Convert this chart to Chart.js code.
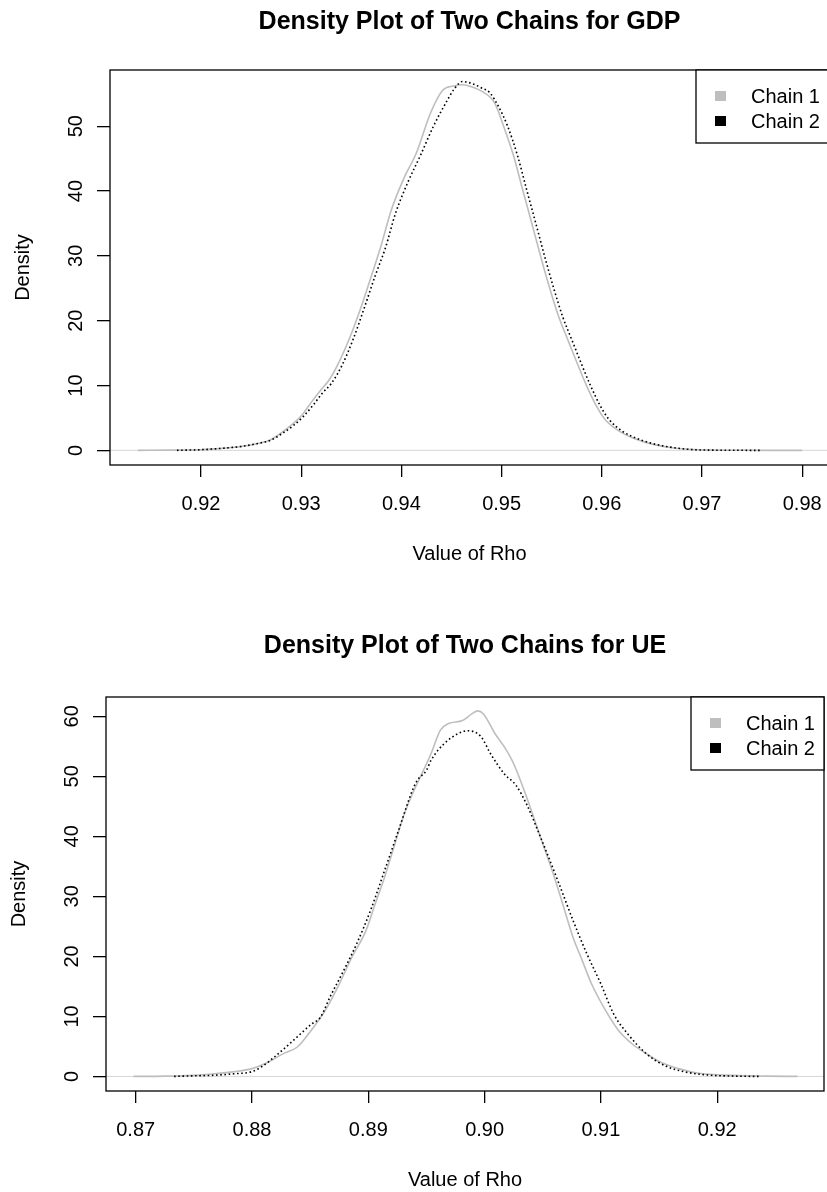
<!DOCTYPE html>
<html>
<head>
<meta charset="utf-8">
<script src="https://cdn.jsdelivr.net/npm/chart.js@4.4.1/dist/chart.umd.min.js"></script>
<style>
  html, body { margin: 0; padding: 0; background: #ffffff; overflow: hidden; width: 827px; height: 1192px; }
  canvas { position: absolute; left: 0; }
  #gdpChart { top: 0; }
  #ueChart { top: 596px; }
</style>
</head>
<body>
<canvas id="gdpChart" width="840" height="596"></canvas>
<canvas id="ueChart" width="827" height="596"></canvas>
<script>
// ---- Data: kernel density estimates of rho for two MCMC chains ----
const seriesNames = ['Chain 1', 'Chain 2'];

// GDP model
const gdpTitle = 'Density Plot of Two Chains for GDP';
const gdpTicksX = [0.92, 0.93, 0.94, 0.95, 0.96, 0.97, 0.98];
const gdpTicksY = [0, 10, 20, 30, 40, 50];
const gdpRho1 = [0.9137, 0.9170, 0.9200, 0.9220, 0.9240, 0.9258, 0.9269, 0.9280, 0.9291, 0.9301, 0.9310, 0.9319, 0.9328, 0.9338, 0.9349, 0.9360, 0.9370, 0.9379, 0.9390, 0.9402, 0.9415, 0.9429, 0.9441, 0.9452, 0.9461, 0.9470, 0.9480, 0.9493, 0.9502, 0.9512, 0.9521, 0.9530, 0.9539, 0.9548, 0.9557, 0.9567, 0.9576, 0.9585, 0.9594, 0.9603, 0.9617, 0.9631, 0.9649, 0.9672, 0.9700, 0.9740, 0.9800];
const gdpDensity1 = [0, 0.03, 0.1, 0.3, 0.6, 1.1, 1.6, 2.7, 4.0, 5.5, 7.4, 9.2, 10.9, 13.7, 17.6, 22.2, 26.9, 31.2, 37.1, 41.8, 45.9, 52.0, 55.5, 56.2, 56.4, 56.1, 55.4, 53.6, 50.0, 45.4, 40.2, 35.1, 29.9, 25.0, 20.6, 16.7, 13.2, 9.9, 7.0, 4.8, 3.0, 1.9, 1.0, 0.35, 0.08, 0.01, 0];
const gdpRho2 = [0.9176, 0.9200, 0.9220, 0.9240, 0.9258, 0.9270, 0.9281, 0.9292, 0.9302, 0.9312, 0.9321, 0.9330, 0.9341, 0.9352, 0.9363, 0.9374, 0.9384, 0.9394, 0.9406, 0.9419, 0.9432, 0.9444, 0.9453, 0.9461, 0.9470, 0.9480, 0.9488, 0.9497, 0.9506, 0.9516, 0.9525, 0.9534, 0.9543, 0.9552, 0.9561, 0.9571, 0.9580, 0.9589, 0.9598, 0.9607, 0.9620, 0.9634, 0.9652, 0.9675, 0.9700, 0.9759];
const gdpDensity2 = [0, 0.1, 0.3, 0.6, 1.1, 1.6, 2.6, 3.8, 5.2, 7.0, 8.8, 10.3, 13.2, 17.2, 22.0, 27.0, 31.2, 36.5, 41.2, 45.5, 50.0, 53.5, 55.8, 56.9, 56.6, 55.9, 55.2, 53.0, 50.0, 45.4, 40.2, 35.1, 29.9, 25.0, 20.6, 16.7, 13.2, 9.9, 7.0, 4.8, 3.0, 1.9, 1.0, 0.35, 0.05, 0];

// UE model
const ueTitle = 'Density Plot of Two Chains for UE';
const ueTicksX = [0.87, 0.88, 0.89, 0.90, 0.91, 0.92];
const ueTicksY = [0, 10, 20, 30, 40, 50, 60];
const ueRho1 = [0.8698, 0.8725, 0.8750, 0.8768, 0.8785, 0.8800, 0.8811, 0.8827, 0.8839, 0.8851, 0.8863, 0.8875, 0.8886, 0.8898, 0.8906, 0.8914, 0.8922, 0.8930, 0.8938, 0.8946, 0.8954, 0.8962, 0.8969, 0.8981, 0.8989, 0.8994, 0.8999, 0.9009, 0.9017, 0.9025, 0.9036, 0.9048, 0.9060, 0.9068, 0.9076, 0.9084, 0.9092, 0.9104, 0.9115, 0.9127, 0.9139, 0.9151, 0.9167, 0.9183, 0.9214, 0.9242, 0.9269];
const ueDensity1 = [0, 0.05, 0.2, 0.45, 0.8, 1.3, 2.1, 3.8, 4.9, 7.7, 11.0, 15.4, 19.9, 24.3, 28.8, 33.2, 38.2, 43.2, 47.1, 50.4, 53.8, 57.7, 58.8, 59.3, 60.4, 60.9, 60.4, 57.1, 54.9, 52.1, 46.6, 39.9, 33.2, 28.2, 23.2, 19.3, 15.4, 11.0, 7.7, 5.4, 3.8, 2.4, 1.3, 0.56, 0.17, 0.05, 0];
const ueRho2 = [0.8733, 0.8750, 0.8768, 0.8785, 0.8800, 0.8809, 0.8819, 0.8835, 0.8851, 0.8859, 0.8867, 0.8879, 0.8890, 0.8902, 0.8914, 0.8926, 0.8938, 0.8942, 0.8950, 0.8954, 0.8965, 0.8977, 0.8985, 0.8997, 0.9005, 0.9017, 0.9027, 0.9036, 0.9048, 0.9064, 0.9076, 0.9088, 0.9100, 0.9111, 0.9123, 0.9139, 0.9155, 0.9171, 0.9194, 0.9215, 0.9236];
const ueDensity2 = [0, 0.1, 0.2, 0.45, 0.8, 1.7, 3.2, 5.9, 8.7, 9.9, 13.2, 17.7, 22.1, 27.7, 34.3, 41.0, 47.7, 49.3, 51.0, 52.7, 55.4, 57.1, 57.6, 56.6, 53.8, 50.4, 48.5, 45.4, 39.9, 32.1, 26.0, 20.4, 15.4, 10.4, 7.1, 3.8, 1.8, 0.8, 0.2, 0.05, 0];

const xTitle = 'Value of Rho';
const yTitle = 'Density';

// ---- Styling ----
const FONT = '"Liberation Sans", Arial, Helvetica, sans-serif';
const chainColors = ['#bebebe', '#000000'];

function toPoints(xs, ys) {
  return xs.map((x, i) => ({ x: x, y: ys[i] }));
}

// Base-graphics look: boxed plot region, rotated y labels, boxed legend, zero reference line
const basePlotPlugin = {
  id: 'basePlot',
  beforeDatasetsDraw(chart) {
    const ctx = chart.ctx, ca = chart.chartArea;
    const y0 = chart.scales.y.getPixelForValue(0);
    ctx.save();
    ctx.strokeStyle = '#d6d6d6';
    ctx.lineWidth = 1;
    ctx.beginPath();
    ctx.moveTo(ca.left, y0);
    ctx.lineTo(ca.right, y0);
    ctx.stroke();
    ctx.restore();
  },
  afterDraw(chart) {
    const o = chart.options.plugins.basePlot;
    const ctx = chart.ctx, ca = chart.chartArea;
    const cx = (ca.left + ca.right) / 2;
    const cy = (ca.top + ca.bottom) / 2;
    ctx.save();
    ctx.fillStyle = '#000';
    ctx.strokeStyle = '#000';

    // frame
    ctx.lineWidth = 1.3;
    ctx.strokeRect(ca.left, ca.top, ca.right - ca.left, ca.bottom - ca.top);

    // main title
    ctx.font = 'bold 25px ' + FONT;
    ctx.textAlign = 'center';
    ctx.textBaseline = 'middle';
    ctx.fillText(o.title, cx, o.titleY);

    // x axis title
    ctx.font = '20px ' + FONT;
    ctx.fillText(xTitle, cx, ca.bottom + 89);

    // y tick labels (rotated, reading upward)
    o.yTicks.forEach(v => {
      const py = chart.scales.y.getPixelForValue(v);
      ctx.save();
      ctx.translate(ca.left - 34, py);
      ctx.rotate(-Math.PI / 2);
      ctx.fillText(String(v), 0, 0);
      ctx.restore();
    });

    // y axis title
    ctx.save();
    ctx.translate(ca.left - 87, cy);
    ctx.rotate(-Math.PI / 2);
    ctx.fillText(yTitle, 0, 0);
    ctx.restore();

    // legend
    const lw = 133, lh = 73;
    const lx = ca.right - lw, ly = ca.top;
    ctx.fillStyle = '#fff';
    ctx.fillRect(lx, ly, lw, lh);
    ctx.lineWidth = 1.3;
    ctx.strokeRect(lx, ly, lw, lh);
    ctx.textAlign = 'left';
    chart.data.datasets.forEach((ds, i) => {
      const ry = ly + 26 + i * 25;
      ctx.fillStyle = chainColors[i];
      ctx.fillRect(lx + 19, ry - 5, 11, 10);
      ctx.fillStyle = '#000';
      ctx.fillText(ds.label, lx + 55, ry + 1);
    });
    ctx.restore();
  }
};

function makeDensityChart(canvasId, cfg) {
  const canvas = document.getElementById(canvasId);
  const W = canvas.width, H = canvas.height;
  const f = cfg.frame;
  return new Chart(canvas, {
    type: 'scatter',
    data: {
      datasets: [
        {
          label: seriesNames[0],
          data: toPoints(cfg.rho1, cfg.dens1),
          showLine: true,
          borderColor: chainColors[0],
          borderWidth: 1.6,
          pointRadius: 0,
          cubicInterpolationMode: 'monotone',
          order: 2
        },
        {
          label: seriesNames[1],
          data: toPoints(cfg.rho2, cfg.dens2),
          showLine: true,
          borderColor: chainColors[1],
          borderWidth: 1.6,
          borderDash: [1.6, 2.6],
          pointRadius: 0,
          cubicInterpolationMode: 'monotone',
          order: 1
        }
      ]
    },
    options: {
      responsive: false,
      animation: false,
      devicePixelRatio: 1,
      events: [],
      layout: { padding: { left: 0, top: f.top, right: W - f.right, bottom: 0 } },
      plugins: {
        legend: { display: false },
        title: { display: false },
        tooltip: { enabled: false },
        basePlot: { title: cfg.title, titleY: cfg.titleY, yTicks: cfg.ticksY }
      },
      scales: {
        x: {
          type: 'linear',
          min: cfg.xMin,
          max: cfg.xMax,
          afterFit(s) { s.height = H - f.bottom; },
          afterBuildTicks(s) { s.ticks = cfg.ticksX.map(v => ({ value: v })); },
          grid: { display: true, drawOnChartArea: false, drawTicks: true, tickLength: 12, color: '#000', lineWidth: 1.3 },
          border: { display: false },
          ticks: {
            autoSkip: false,
            maxRotation: 0,
            minRotation: 0,
            padding: 15,
            color: '#000',
            font: { family: FONT, size: 20, lineHeight: 1.2 },
            callback: v => Number(v).toFixed(2)
          }
        },
        y: {
          type: 'linear',
          min: cfg.yMin,
          max: cfg.yMax,
          afterFit(s) { s.width = f.left; },
          afterBuildTicks(s) { s.ticks = cfg.ticksY.map(v => ({ value: v })); },
          grid: { display: true, drawOnChartArea: false, drawTicks: true, tickLength: 13, color: '#000', lineWidth: 1.3 },
          border: { display: false },
          ticks: { display: false }
        }
      }
    },
    plugins: [basePlotPlugin]
  });
}

makeDensityChart('gdpChart', {
  title: gdpTitle, titleY: 22,
  rho1: gdpRho1, dens1: gdpDensity1, rho2: gdpRho2, dens2: gdpDensity2,
  ticksX: gdpTicksX, ticksY: gdpTicksY,
  xMin: 0.910918, xMax: 0.982674, yMin: -2.26, yMax: 58.67,
  frame: { left: 110, top: 70, right: 829, bottom: 465 }
});

makeDensityChart('ueChart', {
  title: ueTitle, titleY: 50,
  rho1: ueRho1, dens1: ueDensity1, rho2: ueRho2, dens2: ueDensity2,
  ticksX: ueTicksX, ticksY: ueTicksY,
  xMin: 0.867446, xMax: 0.929184, yMin: -2.43, yMax: 63.22,
  frame: { left: 106, top: 101, right: 824, bottom: 495 }
});
</script>
</body>
</html>
